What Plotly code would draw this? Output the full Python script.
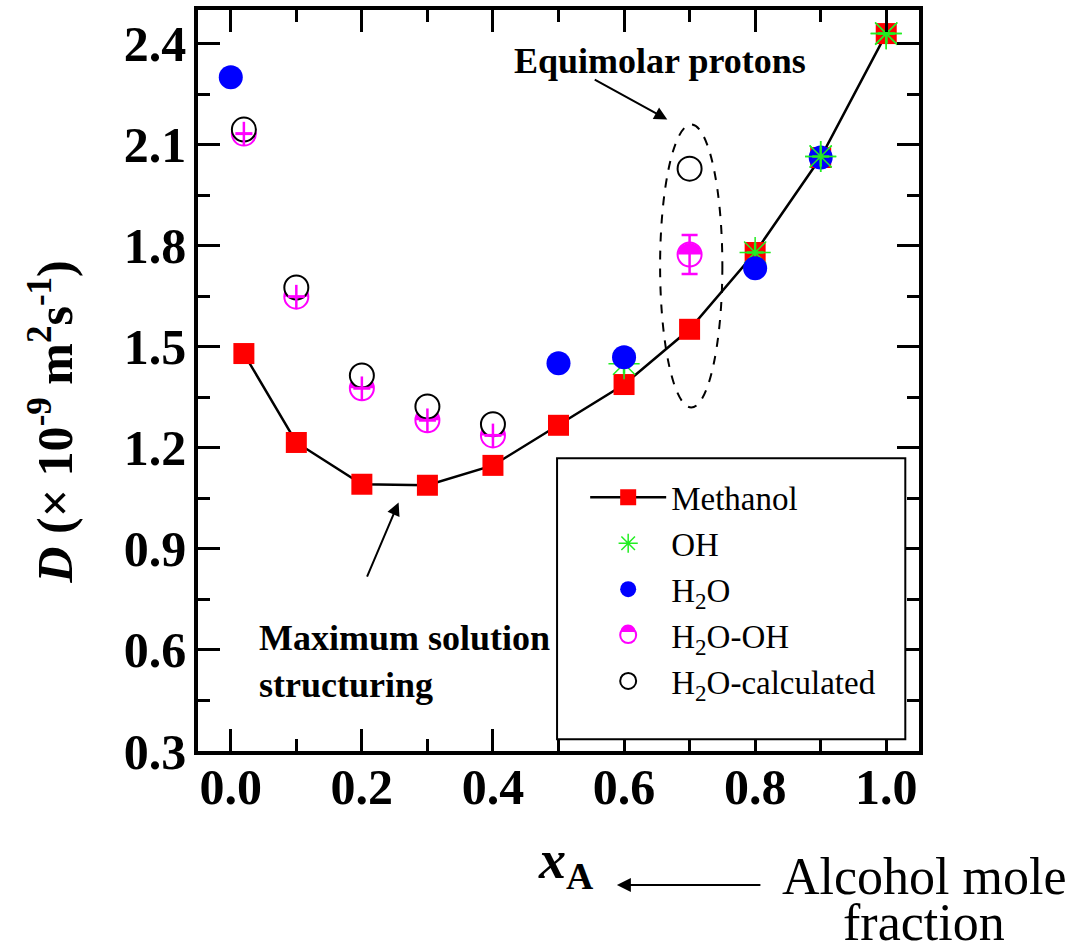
import plotly.graph_objects as go

# Self-diffusion coefficients D (10^-9 m^2 s^-1) vs alcohol mole fraction x_A
x_meoh = [0.02, 0.1, 0.2, 0.3, 0.4, 0.5, 0.6, 0.7, 0.8, 0.9, 1.0]
d_meoh = [1.48, 1.216, 1.092, 1.089, 1.148, 1.267, 1.388, 1.552, 1.78, 2.062, 2.43]

x_oh = [0.6, 0.8, 0.9, 1.0]
d_oh = [1.45, 1.78, 2.065, 2.43]
err_oh = [0.03, 0.03, 0.03, 0.03]

x_h2o = [0.0, 0.5, 0.6, 0.8, 0.9]
d_h2o = [2.30, 1.451, 1.469, 1.733, 2.062]

x_h2o_oh = [0.02, 0.1, 0.2, 0.3, 0.4, 0.7]
d_h2o_oh = [2.133, 1.649, 1.377, 1.282, 1.237, 1.774]
err_h2o_oh = [0.035, 0.035, 0.035, 0.035, 0.035, 0.058]

x_calc = [0.02, 0.1, 0.2, 0.3, 0.4, 0.7]
d_calc = [2.145, 1.676, 1.415, 1.323, 1.270, 2.029]

x_ticks = [0.0, 0.2, 0.4, 0.6, 0.8, 1.0]
y_ticks = [0.3, 0.6, 0.9, 1.2, 1.5, 1.8, 2.1, 2.4]

SERIF = "Liberation Serif"
MAGENTA = "#ff00ff"
GREEN = "#22ee22"
CLEAR = "rgba(255,255,255,0)"

fig = go.Figure()

fig.add_trace(go.Scatter(
    x=x_meoh, y=d_meoh, mode="lines+markers", name="Methanol", legendrank=1,
    line=dict(color="black", width=2.5),
    marker=dict(symbol="square", size=21, color="#ff0000"),
))
fig.add_trace(go.Scatter(
    x=x_oh, y=d_oh, mode="markers", name="OH", legendrank=2,
    marker=dict(symbol="asterisk-open", size=26, color=GREEN, line=dict(color=GREEN, width=1.5)),
    error_y=dict(type="data", array=err_oh, color=GREEN, thickness=2.5, width=0),
    error_x=dict(type="data", array=[0.013] * len(x_oh), color=GREEN, thickness=2.5, width=0),
))
fig.add_trace(go.Scatter(
    x=x_h2o, y=d_h2o, mode="markers", name="H<sub>2</sub>O", legendrank=3,
    marker=dict(symbol="circle", size=24, color="#0000ff"),
))
fig.add_trace(go.Scatter(
    x=x_h2o_oh, y=d_h2o_oh, mode="markers", name="H<sub>2</sub>O-OH", legendrank=4,
    marker=dict(symbol="circle", size=24, color=CLEAR, line=dict(color=MAGENTA, width=2)),
))
fig.add_trace(go.Scatter(
    x=x_calc, y=d_calc, mode="markers", name="H<sub>2</sub>O-calculated", legendrank=5,
    marker=dict(symbol="circle", size=24, color="white", line=dict(color="black", width=2)),
))
# error bars of the H2O-OH points, drawn on top of the other markers
fig.add_trace(go.Scatter(
    x=x_h2o_oh[:5], y=d_h2o_oh[:5], mode="markers", showlegend=False, hoverinfo="skip",
    marker=dict(size=1, opacity=0),
    error_y=dict(type="data", array=err_h2o_oh[:5], color=MAGENTA, thickness=2.5, width=0),
    error_x=dict(type="data", array=[0.013] * 5, color=MAGENTA, thickness=3, width=0),
))
fig.add_trace(go.Scatter(
    x=x_h2o_oh[5:], y=d_h2o_oh[5:], mode="markers", showlegend=False, hoverinfo="skip",
    marker=dict(size=1, opacity=0),
    error_y=dict(type="data", array=err_h2o_oh[5:], color=MAGENTA, thickness=2.5, width=8),
))
# OH crosses at 0.9 and 1.0 sit on top of the water markers
fig.add_trace(go.Scatter(
    x=x_oh[2:], y=d_oh[2:], mode="markers", showlegend=False, hoverinfo="skip",
    marker=dict(symbol="asterisk-open", size=26, color=GREEN, line=dict(color=GREEN, width=1.5)),
    error_y=dict(type="data", array=err_oh[2:], color=GREEN, thickness=2.5, width=0),
    error_x=dict(type="data", array=[0.013] * 2, color=GREEN, thickness=2.5, width=0),
))


def half_disk_path(r):
    # upper half of a disk of radius r (pixels, y pointing up)
    k = 0.5523 * r
    return f"M {-r},0 C {-r},{k} {-k},{r} 0,{r} C {k},{r} {r},{k} {r},0 Z"


shapes = []
for xv, yv in zip(x_h2o_oh, d_h2o_oh):
    shapes.append(dict(
        type="path", xref="x", yref="y", xsizemode="pixel", ysizemode="pixel",
        xanchor=xv, yanchor=yv, path=half_disk_path(11.5),
        fillcolor=MAGENTA, line=dict(width=0), layer="below",
    ))

# dashed ellipse around the equimolar point
shapes.append(dict(type="circle", xref="x", yref="y", x0=0.655, x1=0.75, y0=1.32, y1=2.16,
                   line=dict(color="black", width=2, dash="dash"), layer="above"))

# legend frame
shapes.append(dict(type="rect", xref="paper", yref="paper", x0=0.498, x1=0.981, y0=0.016, y1=0.395,
                   line=dict(color="black", width=2), fillcolor="white", layer="above"))
# half fill of the H2O-OH legend symbol
shapes.append(dict(type="path", xref="paper", yref="paper", xsizemode="pixel", ysizemode="pixel",
                   xanchor=0.5964, yanchor=0.1606, path=half_disk_path(7.5),
                   fillcolor=MAGENTA, line=dict(width=0), layer="above"))

annotations = [
    dict(text="<b><i>D</i> (× 10<sup>-9</sup> m<sup>2</sup>s<sup>-1</sup>)</b>", xref="paper", yref="paper",
         x=-0.203, y=0.444, xanchor="center", yanchor="middle", textangle=-90, showarrow=False,
         font=dict(family=SERIF, size=50, color="black")),
    dict(text="<b><i>x</i></b><sub><b>A</b></sub>", xref="paper", yref="paper", x=0.51, y=-0.152,
         xanchor="center", yanchor="middle", showarrow=False, font=dict(family=SERIF, size=54, color="black")),
    dict(text="", xref="paper", yref="paper", x=0.581, y=-0.181, ax=145, ay=0,
         showarrow=True, arrowhead=2, arrowsize=1.4, arrowwidth=2, arrowcolor="black"),
    dict(text="Alcohol mole", xref="paper", yref="paper", x=1.007, y=-0.170, xanchor="center",
         yanchor="middle", showarrow=False, font=dict(family=SERIF, size=52, color="black")),
    dict(text="fraction", xref="paper", yref="paper", x=1.007, y=-0.232, xanchor="center",
         yanchor="middle", showarrow=False, font=dict(family=SERIF, size=52, color="black")),
    dict(text="<b>Equimolar protons</b>", xref="x", yref="y", x=0.655, y=2.35, showarrow=False,
         font=dict(family=SERIF, size=36, color="black")),
    dict(text="", xref="x", yref="y", x=0.666, y=2.175, ax=0.553, ay=2.296, axref="x", ayref="y",
         showarrow=True, arrowhead=2, arrowsize=1.3, arrowwidth=2, arrowcolor="black"),
    dict(text="<b>Maximum solution<br>structuring</b>", xref="x", yref="y", x=0.04, y=0.70,
         xanchor="left", yanchor="top", align="left", showarrow=False,
         font=dict(family=SERIF, size=36, color="black")),
    dict(text="", xref="x", yref="y", x=0.256, y=1.038, ax=0.207, ay=0.813, axref="x", ayref="y",
         showarrow=True, arrowhead=2, arrowsize=1.3, arrowwidth=2, arrowcolor="black"),
]

axis_common = dict(
    showline=True, linewidth=3.5, linecolor="black", mirror="ticks",
    ticks="inside", ticklen=22, tickwidth=3, tickcolor="black",
    showgrid=False, zeroline=False, automargin=False,
)

fig.update_xaxes(
    range=[-0.05, 1.05], tickvals=x_ticks, ticktext=[f"{v:.1f}" for v in x_ticks],
    tickfont=dict(family=SERIF, size=50, color="black", weight="bold"), ticklabelstandoff=-11,
    minor=dict(dtick=0.1, tick0=0, ticks="inside", ticklen=12, tickwidth=3, tickcolor="black"),
    **axis_common,
)
fig.update_yaxes(
    range=[0.3, 2.5], tickvals=y_ticks, ticktext=[f"{v:.1f}" for v in y_ticks],
    tickfont=dict(family=SERIF, size=50, color="black", weight="bold"), ticklabelstandoff=-2,
    minor=dict(dtick=0.15, tick0=0.3, ticks="inside", ticklen=12, tickwidth=3, tickcolor="black"),
    **axis_common,
)

fig.update_layout(
    width=1078, height=946,
    margin=dict(l=198, r=159, t=10, b=195),
    paper_bgcolor="white", plot_bgcolor="white",
    font=dict(family=SERIF, color="black"),
    showlegend=True,
    legend=dict(x=0.537, y=0.38, xanchor="left", yanchor="top", bgcolor="rgba(0,0,0,0)",
                borderwidth=0, font=dict(family=SERIF, size=33, color="black"),
                itemwidth=76, traceorder="normal", tracegroupgap=0),
    shapes=shapes,
    annotations=annotations,
)

fig.write_html("out.html")
